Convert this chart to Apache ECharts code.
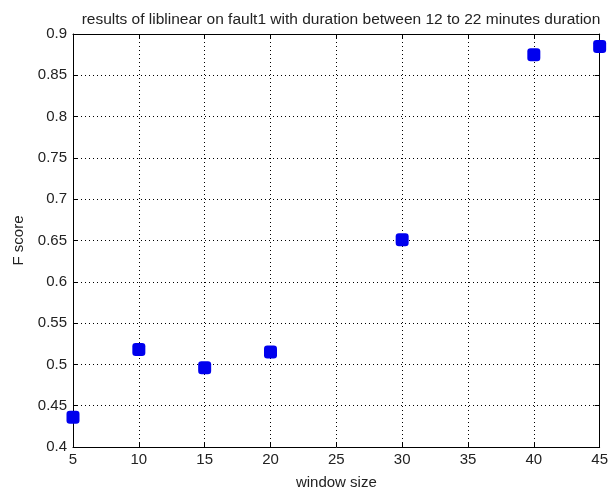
<!DOCTYPE html>
<html>
<head>
<meta charset="utf-8">
<script src="https://cdn.jsdelivr.net/npm/echarts@6/dist/echarts.min.js"></script>
<style>
  html, body { margin: 0; padding: 0; background: #fff; }
  #chart { width: 611px; height: 495px; }
</style>
</head>
<body>
<div id="chart"></div>
<script>
// window sizes and F scores
var windowSizes = [5, 10, 15, 20, 30, 40, 45]
var fScores = [0.436, 0.518, 0.496, 0.515, 0.651, 0.875, 0.885]

var font = '"Liberation Sans", Arial, sans-serif'
var dots = { type: [1, 3], color: '#000', width: 1 }

var chart = echarts.init(document.getElementById('chart'))
chart.setOption({
  backgroundColor: '#fff',
  animation: false,
  title: {
    text: 'results of liblinear on fault1 with duration between 12 to 22 minutes duration',
    left: 336,
    textAlign: 'center',
    top: 7,
    textStyle: { fontFamily: font, fontSize: 15.5, fontWeight: 'normal', color: '#222' }
  },
  grid: { left: 73, right: 10, top: 34, bottom: 46 },
  xAxis: [{
    type: 'value',
    min: 5,
    max: 45,
    interval: 5,
    name: 'window size',
    nameLocation: 'middle',
    nameGap: 28,
    nameTextStyle: { fontFamily: font, fontSize: 15, color: '#222' },
    axisLine: { lineStyle: { color: '#000', width: 1 } },
    axisTick: { inside: true, length: 5, lineStyle: { color: '#000' } },
    axisLabel: { fontFamily: font, fontSize: 15, color: '#222', margin: 5 },
    splitLine: { show: true, lineStyle: dots }
  }, {
    type: 'value',
    position: 'top',
    min: 5,
    max: 45,
    interval: 5,
    axisLine: { lineStyle: { color: '#000', width: 1 } },
    axisTick: { inside: true, length: 5, lineStyle: { color: '#000' } },
    axisLabel: { show: false },
    splitLine: { show: false }
  }],
  yAxis: [{
    type: 'value',
    min: 0.4,
    max: 0.9,
    interval: 0.05,
    name: 'F score',
    nameLocation: 'middle',
    nameGap: 47,
    nameTextStyle: { fontFamily: font, fontSize: 15, color: '#222' },
    axisLine: { show: true, lineStyle: { color: '#000', width: 1 } },
    axisTick: { show: true, inside: true, length: 5, lineStyle: { color: '#000' } },
    axisLabel: {
      fontFamily: font, fontSize: 15, color: '#222', margin: 6,
      formatter: function(v) { return String(+v.toFixed(2)) }
    },
    splitLine: { show: true, lineStyle: dots }
  }, {
    type: 'value',
    position: 'right',
    min: 0.4,
    max: 0.9,
    interval: 0.05,
    axisLine: { show: true, lineStyle: { color: '#000', width: 1 } },
    axisTick: { show: true, inside: true, length: 5, lineStyle: { color: '#000' } },
    axisLabel: { show: false },
    splitLine: { show: false }
  }],
  series: [{
    type: 'scatter',
    symbol: 'roundRect',
    symbolSize: 13,
    itemStyle: { color: '#0000ee', opacity: 1 },
    data: windowSizes.map(function(x, i) { return [x, fScores[i]] })
  }]
})
</script>
</body>
</html>
